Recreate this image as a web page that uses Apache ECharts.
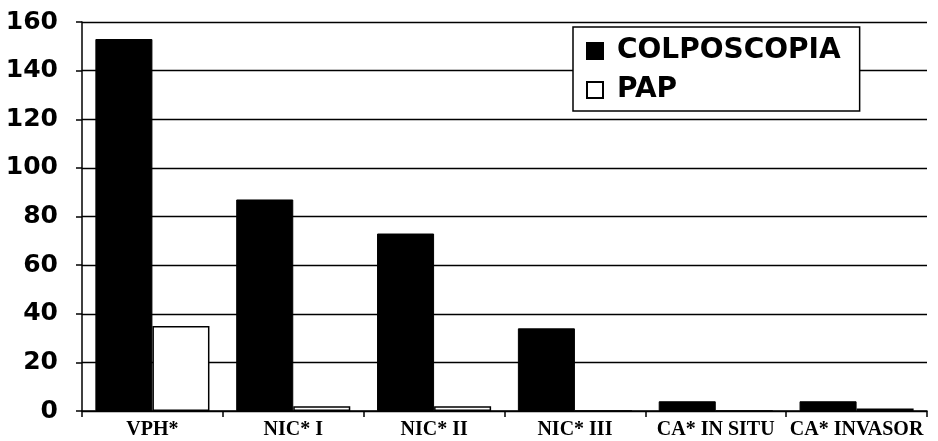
<!DOCTYPE html>
<html>
<head>
<meta charset="utf-8">
<script src="https://cdn.jsdelivr.net/npm/echarts@6/dist/echarts.min.js"></script>
<style>
  html, body { margin: 0; padding: 0; background: #fff; }
  #chart { width: 938px; height: 441px; }
</style>
</head>
<body>
<div id="chart"></div>
<script>
// Diagnoses on the category axis
const categories = ['VPH*', 'NIC* I', 'NIC* II', 'NIC* III', 'CA* IN SITU', 'CA* INVASOR'];
// Cases detected by each method
const colposcopia = [153, 87, 73, 34, 4, 4];
const pap = [35, 2, 2, 0, 0, 1];
// Value axis settings
const yMin = 0, yMax = 160, yStep = 20;

const chart = echarts.init(document.getElementById('chart'));
chart.setOption({
  animation: false,
  backgroundColor: '#fff',
  grid: { left: 82, right: 11, top: 22, bottom: 30 },
  legend: {
    orient: 'vertical',
    left: 573,
    top: 27,
    padding: [10, 19, 7, 13],
    itemGap: 11,
    itemWidth: 16,
    itemHeight: 16,
    backgroundColor: '#fff',
    borderColor: '#000',
    borderWidth: 1.5,
    borderRadius: 0,
    icon: 'rect',
    textStyle: {
      fontFamily: 'DejaVu Sans',
      fontWeight: 'bold',
      fontSize: 28,
      lineHeight: 28,
      color: '#000',
      padding: [0, 0, 0, 9]
    },
    data: ['COLPOSCOPIA', 'PAP']
  },
  xAxis: {
    type: 'category',
    data: categories,
    axisLine: { lineStyle: { color: '#000', width: 1.5 } },
    axisTick: { show: true, length: 6, lineStyle: { color: '#000', width: 1.5 } },
    axisLabel: {
      interval: 0,
      margin: 9,
      fontFamily: 'Liberation Serif',
      fontWeight: 'bold',
      fontSize: 20,
      color: '#000'
    }
  },
  yAxis: {
    type: 'value',
    min: yMin,
    max: yMax,
    interval: yStep,
    axisLine: { show: true, lineStyle: { color: '#000', width: 1.5 } },
    axisTick: { show: true, length: 6, lineStyle: { color: '#000', width: 1.5 } },
    splitLine: { show: true, lineStyle: { color: '#000', width: 1.3 } },
    axisLabel: {
      margin: 24,
      fontFamily: 'DejaVu Sans',
      fontWeight: 'bold',
      fontSize: 25,
      color: '#000'
    }
  },
  series: [
    {
      name: 'COLPOSCOPIA',
      type: 'bar',
      data: colposcopia,
      barGap: '0%',
      barCategoryGap: '19%',
      itemStyle: { color: '#000', borderColor: '#000', borderWidth: 1 }
    },
    {
      name: 'PAP',
      type: 'bar',
      data: pap,
      itemStyle: { color: '#fff', borderColor: '#000', borderWidth: 1.5 }
    }
  ]
});
</script>
</body>
</html>
